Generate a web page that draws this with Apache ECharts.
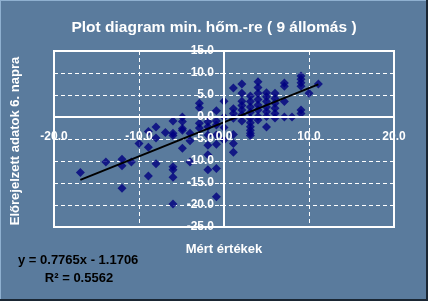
<!DOCTYPE html>
<html>
<head>
<meta charset="utf-8">
<script src="https://cdn.jsdelivr.net/npm/echarts@6/dist/echarts.min.js"></script>
<style>
html,body{margin:0;padding:0;background:#5a7b9d;}
#c{width:428px;height:301px;}
</style>
</head>
<body>
<div id="c"></div>
<script>
// Measured (x) and forecast (y) values, grouped by measured value
const xVals = [-16.9, -13.9, -12, -12, -12, -10.9, -10, -8.9, -8.9, -8.9, -8, -8, -8, -6.9,
  -6, -6, -6, -6, -6, -6, -6,
  -4.9, -4.9, -4.9, -4.9, -4.9,
  -4, -4, -4,
  -2.9, -2.9, -2.9, -2.9,
  -1.9, -1.9, -1.9, -1.9, -1.9, -1.9,
  -0.9, -0.9, -0.9, -0.9, -0.9, -0.9, -0.9,
  0, 0, 0, 0,
  1.1, 1.1, 1.1, 1.1, 1.1, 1.1, 1.1,
  2.1, 2.1, 2.1, 2.1, 2.1, 2.1, 2.1,
  3.1, 3.1, 3.1, 3.1, 3.1, 3.1, 3.1, 3.1, 3.1, 3.1,
  4, 4, 4, 4, 4, 4, 4, 4,
  5, 5, 5, 5, 5, 5, 5,
  6, 6, 6, 6, 6, 6,
  7.1, 7.1, 7.1, 7.1,
  8,
  9.06, 9.06, 9.06, 9.06, 9.06, 9.06,
  10, 11.1];
const yVals = [-12.6, -10.2, -9.6, -11.1, -16.2, -10.2, -6.0, -3.3, -6.9, -13.4, -2.3, -4.8, -10.6, -3.5,
  -0.9, -3.7, -4.2, -11.3, -12.0, -13.7, -19.8,
  0.0, -1.0, -2.6, -3.0, -7.1,
  -3.7, -5.4, -10.2,
  3.1, 2.1, -1.4, -2.5,
  -1.1, -2.2, -4.1, -6.4, -8.6, -12.0,
  1.4, -0.9, -1.8, -4.1, -6.2, -11.7, -18.1,
  3.6, 0.0, -2.4, -5.2,
  6.6, 1.9, 0.8, -0.3, -4.0, -6.0, -8.0,
  7.5, 5.4, 3.6, 2.6, 1.6, 0.5, -0.9,
  4.8, 3.5, 2.3, 1.1, -0.3, -1.3, -2.2, -3.0, -3.7, -4.2,
  8.0, 6.7, 5.4, 4.0, 2.7, 1.6, 0.1, -0.7,
  5.5, 4.6, 3.5, 2.3, 1.2, 0.1, -2.3,
  5.4, 4.2, 3.1, 2.0, 0.8, -0.2,
  7.7, 7.0, 3.5, 0.0,
  0.0,
  9.3, 8.6, 7.8, 7.0, 1.6, 0.8,
  5.4, 7.5];
// Trendline end points
const trendX = [-16.9, 11.1];
const trendY = [-14.3, 7.4];

const titleText = 'Plot diagram min. hőm.-re ( 9 állomás )';
const xTitle = 'Mért értékek';
const yTitle = 'Előrejelzett adatok 6. napra';
const eqText = 'y = 0.7765x - 1.1706';
const r2Text = 'R² = 0.5562';

const points = xVals.map((x, i) => [x, yVals[i]]);
const trend = trendX.map((x, i) => [x, trendY[i]]);

const FONT = '"Liberation Sans", Arial, sans-serif';
const G = {left: 54, top: 51, width: 340, height: 176};
const X_MIN = -20, X_MAX = 20, Y_MIN = -25, Y_MAX = 15;
// distance from grid edge to the zero lines (axes cross at the origin)
const xAxisOffset = -G.height * (0 - Y_MIN) / (Y_MAX - Y_MIN);
const yAxisOffset = -G.width * (0 - X_MIN) / (X_MAX - X_MIN);

const labelStyle = {color: '#fff', fontFamily: FONT, fontWeight: 'bold', fontSize: 12,
  showMinLabel: true, showMaxLabel: true, formatter: v => v.toFixed(1)};
const gridLine = {show: true, lineStyle: {color: '#fff', type: [4, 3], width: 1}};

const chart = echarts.init(document.getElementById('c'), null, {renderer: 'canvas'});
chart.setOption({
  backgroundColor: '#5a7b9d',
  animation: false,
  title: {
    text: titleText, left: 'center', top: 15,
    textStyle: {color: '#fff', fontFamily: FONT, fontWeight: 'bold', fontSize: 15.5}
  },
  grid: {left: G.left, top: G.top, width: G.width, height: G.height, show: true,
    borderColor: '#fff', borderWidth: 2, backgroundColor: 'transparent'},
  xAxis: [
    {type: 'value', min: X_MIN, max: X_MAX, interval: 10, position: 'bottom', z: 0,
      axisLine: {show: false}, axisTick: {show: false}, axisLabel: {show: false}, splitLine: gridLine},
    {type: 'value', min: X_MIN, max: X_MAX, interval: 10, position: 'bottom', offset: xAxisOffset, z: 6,
      axisLine: {onZero: false, lineStyle: {color: '#fff', width: 2}},
      axisTick: {show: true, length: 4, lineStyle: {color: '#fff', width: 1}},
      splitLine: {show: false},
      axisLabel: Object.assign({margin: 14}, labelStyle)}
  ],
  yAxis: [
    {type: 'value', min: Y_MIN, max: Y_MAX, interval: 5, position: 'left', z: 0,
      axisLine: {show: false}, axisTick: {show: false}, axisLabel: {show: false}, splitLine: gridLine},
    {type: 'value', min: Y_MIN, max: Y_MAX, interval: 5, position: 'left', offset: yAxisOffset, z: 6,
      axisLine: {onZero: false, lineStyle: {color: '#fff', width: 2}},
      axisTick: {show: true, length: 4, lineStyle: {color: '#fff', width: 1}},
      splitLine: {show: false},
      axisLabel: Object.assign({margin: 10}, labelStyle)}
  ],
  series: [
    {type: 'scatter', xAxisIndex: 0, yAxisIndex: 0, data: points, symbol: 'diamond', symbolSize: 9,
      itemStyle: {color: '#000080'}, z: 3},
    {type: 'line', xAxisIndex: 0, yAxisIndex: 0, data: trend, symbol: 'none',
      lineStyle: {color: '#000', width: 2}, z: 4}
  ],
  graphic: [
    {type: 'text', x: 15, y: 141, rotation: Math.PI / 2,
      style: {text: yTitle, fill: '#fff', font: 'bold 13px ' + FONT, align: 'center', verticalAlign: 'middle'}},
    {type: 'text', x: 224, y: 249,
      style: {text: xTitle, fill: '#fff', font: 'bold 13px ' + FONT, align: 'center', verticalAlign: 'middle'}},
    {type: 'text', x: 18, y: 260,
      style: {text: eqText, fill: '#000', font: 'bold 13px ' + FONT, align: 'left', verticalAlign: 'middle'}},
    {type: 'text', x: 79, y: 278,
      style: {text: r2Text, fill: '#000', font: 'bold 13px ' + FONT, align: 'center', verticalAlign: 'middle'}},
    {type: 'rect', shape: {x: 0, y: 0, width: 428, height: 1}, style: {fill: '#8fb0d0'}, silent: true},
    {type: 'rect', shape: {x: 0, y: 0, width: 1, height: 301}, style: {fill: '#8fb0d0'}, silent: true},
    {type: 'rect', shape: {x: 0, y: 299, width: 428, height: 2}, style: {fill: '#1a2633'}, silent: true},
    {type: 'rect', shape: {x: 426, y: 0, width: 2, height: 301}, style: {fill: '#1a2633'}, silent: true}
  ]
});
</script>
</body>
</html>
